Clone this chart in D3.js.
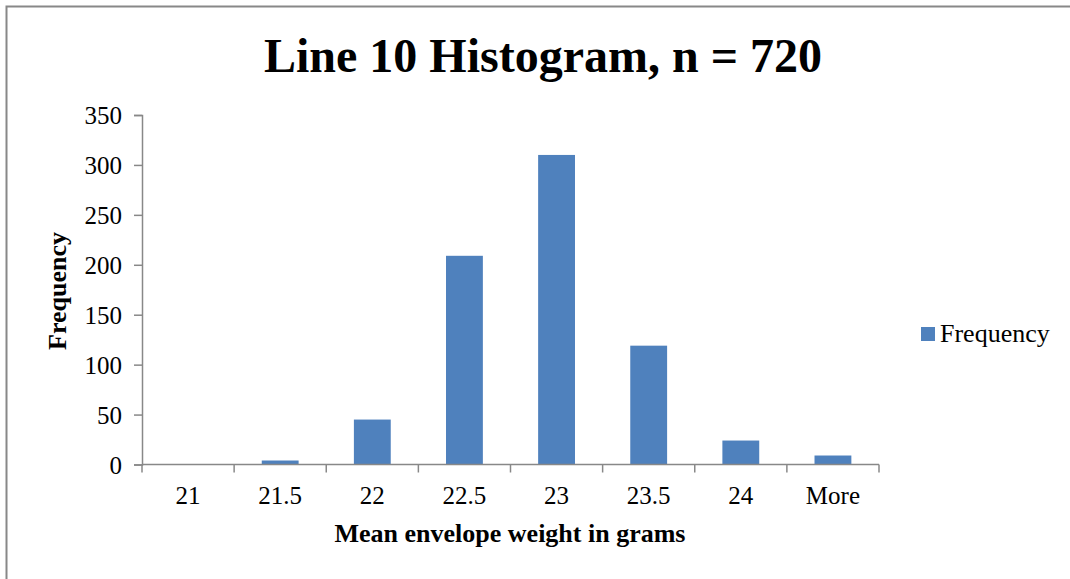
<!DOCTYPE html>
<meta charset="utf-8">
<style>
body { margin: 0; background: #fff; }
text { font-family: "Liberation Serif", "Times New Roman", serif; fill: #000; }
</style>
<body>
<script src="https://cdn.jsdelivr.net/npm/d3@7"></script>
<script>

var categories = ["21", "21.5", "22", "22.5", "23", "23.5", "24", "More"];
var frequency = [0, 4, 45, 209, 310, 119, 24, 9];
var yTicks = [0, 50, 100, 150, 200, 250, 300, 350];

var width = 1070,
    height = 579;

var svg = d3.select("body").append("svg")
    .attr("width", width)
    .attr("height", height);

// chart frame (cut off on right and bottom)
svg.append("path")
    .attr("d", "M6.5," + height + "V6.5H" + width)
    .attr("fill", "none")
    .attr("stroke", "#888")
    .attr("stroke-width", 2);

var plotLeft = 142, plotRight = 879, plotTop = 115, plotBottom = 464.5;

var x = d3.scaleBand()
    .domain(categories)
    .range([plotLeft, plotRight])
    .paddingInner(0.6)
    .paddingOuter(0.3);

var y = d3.scaleLinear()
    .domain([0, 350])
    .range([plotBottom, plotTop]);

// bars
svg.selectAll(".bar")
    .data(categories)
  .enter().append("rect")
    .attr("class", "bar")
    .attr("x", function(d) { return x(d); })
    .attr("width", x.bandwidth())
    .attr("y", function(d, i) { return y(frequency[i]); })
    .attr("height", function(d, i) { return plotBottom - y(frequency[i]); })
    .attr("fill", "#4F81BD");

// y axis
var yAxis = svg.append("g")
    .attr("transform", "translate(" + plotLeft + ",0)")
    .call(d3.axisLeft(y).tickValues(yTicks).tickSize(8).tickPadding(12));
yAxis.selectAll("text")
    .style("font-size", "25px")
    .style("font-family", "'Liberation Serif', serif")
    .attr("dy", "0.35em");
yAxis.select(".domain").attr("stroke", "#888").attr("stroke-width", 1.5);
yAxis.selectAll(".tick line").attr("stroke", "#888").attr("stroke-width", 1.5);

// x axis: ticks at category boundaries
var step = (plotRight - plotLeft) / categories.length;
var xAxis = svg.append("g")
    .attr("transform", "translate(0," + plotBottom + ")");
xAxis.append("line")
    .attr("x1", plotLeft).attr("x2", plotRight)
    .attr("stroke", "#888").attr("stroke-width", 1.5);
xAxis.selectAll(".tick")
    .data(d3.range(categories.length + 1))
  .enter().append("line")
    .attr("x1", function(i) { return plotLeft + i * step; })
    .attr("x2", function(i) { return plotLeft + i * step; })
    .attr("y1", 0).attr("y2", 8)
    .attr("stroke", "#888").attr("stroke-width", 1.5);
xAxis.selectAll(".lbl")
    .data(categories)
  .enter().append("text")
    .attr("x", function(d) { return x(d) + x.bandwidth() / 2; })
    .attr("y", 39)
    .attr("text-anchor", "middle")
    .style("font-size", "25px")
    .text(function(d) { return d; });

// titles
svg.append("text")
    .attr("x", 543).attr("y", 72)
    .attr("text-anchor", "middle")
    .style("font-size", "48px").style("font-weight", "bold")
    .text("Line 10 Histogram, n = 720");

svg.append("text")
    .attr("x", 510).attr("y", 542)
    .attr("text-anchor", "middle")
    .style("font-size", "26px").style("font-weight", "bold")
    .text("Mean envelope weight in grams");

svg.append("text")
    .attr("transform", "translate(66,291) rotate(-90)")
    .attr("text-anchor", "middle")
    .style("font-size", "26px").style("font-weight", "bold")
    .text("Frequency");

// legend
svg.append("rect")
    .attr("x", 921).attr("y", 327)
    .attr("width", 14).attr("height", 14)
    .attr("fill", "#4F81BD");
svg.append("text")
    .attr("x", 940).attr("y", 342)
    .style("font-size", "26px")
    .text("Frequency");
</script>
</body>
